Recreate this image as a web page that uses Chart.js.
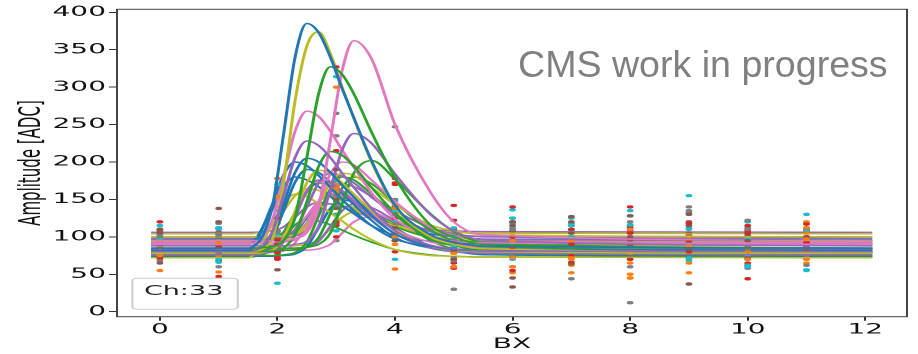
<!DOCTYPE html>
<html>
<head>
<meta charset="utf-8">
<script src="https://cdn.jsdelivr.net/npm/chart.js@4.4.1/dist/chart.umd.min.js"></script>
<style>
  html, body { margin: 0; padding: 0; background: #fff; }
  #wrap { position: relative; width: 918px; height: 354px; overflow: hidden; }
  /* the original figure is stretched ~2x horizontally */
  #stretch { position: absolute; left: 0; top: 0; width: 459px; height: 354px; transform: scaleX(2); transform-origin: 0 0; }
  #cms { position: absolute; left: 518px; top: 46px; font: 37.6px 'Liberation Sans', Arial, sans-serif; line-height: 37px; color: #808080; white-space: nowrap; }
</style>
</head>
<body>
<div id="wrap">
  <div id="stretch"><canvas id="c"></canvas></div>
  <div id="cms">CMS work in progress</div>
</div>
<script>
// fitted pulse curves, read at these BX positions
const fitX = [-0.15, 1.5, 1.9, 2.1, 2.3, 2.5, 2.7, 2.9, 3.1, 3.3, 3.6, 4.0, 4.6, 5.0, 5.5, 12.12];
const fitY = [
  [85,85,136,235,340,385,373,340,298,259,202,142,103,93,88,85],
  [85,85,87,95,126,206,291,327,317,291,240,179,116,100,90,85],
  [80,80,105,154,206,228,222,206,185,166,138,108,89,84,81,80],
  [95,95,95,95,98,106,140,229,322,362,338,250,160,120,103,95],
  [80,80,95,170,282,355,374,345,300,258,200,140,100,90,84,80],
  [80,80,101,143,186,205,200,186,169,153,129,104,88,83,81,80],
  [80,80,81,85,103,147,194,214,209,194,166,132,97,88,83,80],
  [88,88,88,88,90,94,114,163,216,238,225,184,130,108,96,88],
  [90,90,120,179,241,268,261,241,216,193,159,124,101,94,92,90],
  [78,78,82,97,134,172,189,185,172,157,135,109,88,82,80,78],
  [82,82,141,182,200,195,182,166,150,135,115,97,87,84,83,82],
  [85,85,85,85,85,86,90,105,144,185,202,177,131,107,93,85],
  [76,76,80,93,126,161,176,172,161,147,127,104,85,80,78,76],
  [92,92,92,93,96,110,146,184,200,196,176,147,113,102,95,92],
  [100,100,100,101,103,114,143,172,185,182,166,143,116,108,103,100],
  [78,78,97,134,173,190,186,173,158,143,122,99,85,81,79,78],
  [82,82,82,82,83,86,99,131,165,180,171,145,109,95,87,82],
  [95,95,96,99,110,140,172,185,181,172,153,130,107,100,97,95],
  [85,85,89,100,130,162,175,171,162,149,131,110,93,89,86,85],
  [72,72,115,144,157,154,144,132,121,110,96,83,75,74,73,72],
  [90,90,135,167,180,176,167,154,142,131,115,102,94,92,91,90],
  [75,75,75,76,79,93,128,164,180,176,157,129,95,84,78,75],
  [98,98,98,99,101,110,134,159,170,167,154,135,112,104,100,98],
  [78,78,79,81,92,118,146,158,155,146,129,109,88,83,80,78],
  [104,104,114,134,155,164,162,155,147,139,127,115,108,106,105,104],
  [74,74,74,75,77,87,112,138,149,146,133,112,88,81,76,74],
  [92,92,95,106,132,160,172,169,160,149,133,114,99,95,93,92],
  [84,84,84,84,85,86,94,114,135,144,139,122,101,92,87,84],
  [100,100,101,102,109,128,147,155,153,147,135,121,107,103,101,100],
  [88,88,88,88,88,90,96,111,126,133,129,117,101,94,90,88],
  [96,96,97,98,106,126,147,156,154,147,134,119,104,100,97,96],
  [73,73,82,98,116,123,121,116,109,102,93,83,76,74,73,73],
  [106,106,108,113,126,140,146,144,140,134,126,117,110,108,107,106],
  [82,82,82,82,82,82,84,90,105,120,127,117,100,91,85,82],
  [94,94,95,96,103,119,137,144,142,137,126,114,101,97,95,94]
];

// measured ADC samples per BX
const sampleX = [0,1,2,3,4,5,6,7,8,9,10,11];
const sampleY = [
  [55,92,178,300,138,78,95,72,110,88,80,97],
  [120,47,96,327,172,142,140,90,140,80,44,117],
  [108,138,125,190,112,70,33,127,128,37,95,82],
  [100,105,98,265,247,30,110,44,12,140,122,62],
  [115,95,170,314,135,88,136,100,135,155,62,130],
  [75,53,154,165,100,60,72,52,45,52,70,120],
  [72,86,72,215,140,122,55,75,105,95,115,95],
  [105,120,56,150,178,82,120,120,100,130,70,100],
  [70,78,150,235,118,96,88,98,60,92,110,85],
  [76,66,95,175,70,100,92,76,116,72,60,55],
  [85,95,165,160,90,60,52,95,78,65,62,105],
  [85,106,90,100,170,100,86,80,88,118,105,92],
  [65,80,85,160,95,78,115,64,96,84,72,90],
  [88,102,86,155,150,104,74,96,84,132,112,78],
  [96,70,102,162,148,112,125,118,128,80,98,108],
  [98,75,118,170,95,80,60,70,50,85,85,70],
  [78,90,80,120,142,90,100,110,70,78,95,88],
  [110,98,100,180,135,60,88,100,105,115,80,106],
  [80,88,108,162,100,72,82,86,98,90,95,75],
  [80,110,128,130,95,82,70,115,95,68,75,88],
  [92,100,140,155,105,95,82,110,65,100,92,112],
  [75,68,70,178,125,58,82,66,80,72,65,78],
  [100,105,78,165,140,95,108,105,115,92,102,110],
  [68,60,80,150,112,68,90,72,82,102,58,96],
  [102,112,135,148,120,95,100,125,88,112,120,118],
  [78,82,72,130,57,70,88,62,45,70,80,65],
  [110,95,102,168,120,110,120,100,112,105,108,100],
  [92,75,82,118,115,86,45,90,80,100,88,96],
  [102,118,105,145,125,85,95,105,120,135,92,100],
  [90,100,38,108,110,92,112,108,90,98,84,72],
  [92,85,95,150,115,90,105,98,88,102,75,108],
  [72,78,92,115,80,65,60,82,75,88,62,70],
  [106,112,108,138,120,110,125,115,108,120,100,112],
  [78,90,84,95,130,80,92,88,70,100,76,86],
  [88,104,98,140,105,90,118,95,100,110,92,56]
];

const bxTicks = [0, 2, 4, 6, 8, 10, 12];
const ampTicks = [0, 50, 100, 150, 200, 250, 300, 350, 400];
const channelLabel = 'Ch:33';

// matplotlib tab10, lines and dots alternate through the cycle
const lineColors = ['#1f77b4', '#2ca02c', '#9467bd', '#e377c2', '#bcbd22'];
const dotColors = ['#ff7f0e', '#d62728', '#8c564b', '#7f7f7f', '#17becf'];

const datasets = [];
fitY.forEach((curve, i) => {
  datasets.push({
    data: fitX.map((x, k) => ({ x: x, y: curve[k] })),
    showLine: true,
    borderColor: lineColors[i % 5],
    borderWidth: 1.5,
    pointRadius: 0,
    cubicInterpolationMode: 'monotone'
  });
  datasets.push({
    data: sampleX.map((x, k) => ({ x: x, y: sampleY[i][k] })),
    showLine: false,
    backgroundColor: dotColors[i % 5],
    borderWidth: 0,
    pointRadius: 1.7
  });
});

// axes frame and the little legend box
const framePlugin = {
  id: 'frame',
  afterDraw(chart) {
    const { ctx, chartArea: a } = chart;
    ctx.save();
    ctx.strokeStyle = '#444';
    ctx.lineWidth = 1;
    ctx.strokeRect(a.left, a.top, a.right - a.left, a.bottom - a.top);

    ctx.beginPath();
    ctx.roundRect(66.2, 278.3, 52.7, 31, 2.5);
    ctx.fillStyle = 'rgba(255,255,255,0.8)';
    ctx.fill();
    ctx.strokeStyle = '#cccccc';
    ctx.stroke();
    ctx.fillStyle = '#222';
    ctx.font = '13.5px "DejaVu Sans"';
    ctx.textAlign = 'center';
    ctx.textBaseline = 'alphabetic';
    ctx.fillText(channelLabel, 91.8, 295);
    ctx.restore();
  }
};

Chart.defaults.font.family = '"DejaVu Sans"';
Chart.defaults.color = '#111';

new Chart(document.getElementById('c'), {
  type: 'scatter',
  data: { datasets: datasets },
  options: {
    responsive: true,
    maintainAspectRatio: false,
    animation: false,
    devicePixelRatio: 2,
    events: [],
    layout: { padding: { left: 0, right: 5.5, top: 9.3, bottom: 0 } },
    plugins: { legend: { display: false }, tooltip: { enabled: false } },
    scales: {
      x: {
        type: 'linear',
        min: -0.73,
        max: 12.71,
        afterBuildTicks(s) { s.ticks = bxTicks.map(v => ({ value: v })); },
        afterFit(s) { s.height = 37.3; s.paddingLeft = 0; s.paddingRight = 0; },
        grid: { drawOnChartArea: false, tickLength: 4, color: '#333' },
        border: { display: false },
        ticks: { font: { size: 14 }, padding: 1, maxRotation: 0 },
        title: { display: true, text: 'BX', font: { size: 14 }, padding: { top: 0, bottom: 1 } }
      },
      y: {
        min: -6.7,
        max: 404,
        afterBuildTicks(s) { s.ticks = ampTicks.map(v => ({ value: v })); },
        afterFit(s) { s.width = 58.5; s.paddingTop = 0; s.paddingBottom = 0; },
        grid: { drawOnChartArea: false, tickLength: 4, color: '#333' },
        border: { display: false },
        ticks: { font: { size: 14 }, padding: 1.5 },
        title: { display: true, text: 'Amplitude [ADC]', font: { size: 15 }, padding: { top: 7, bottom: 0 } }
      }
    }
  },
  plugins: [framePlugin]
});
</script>
</body>
</html>
